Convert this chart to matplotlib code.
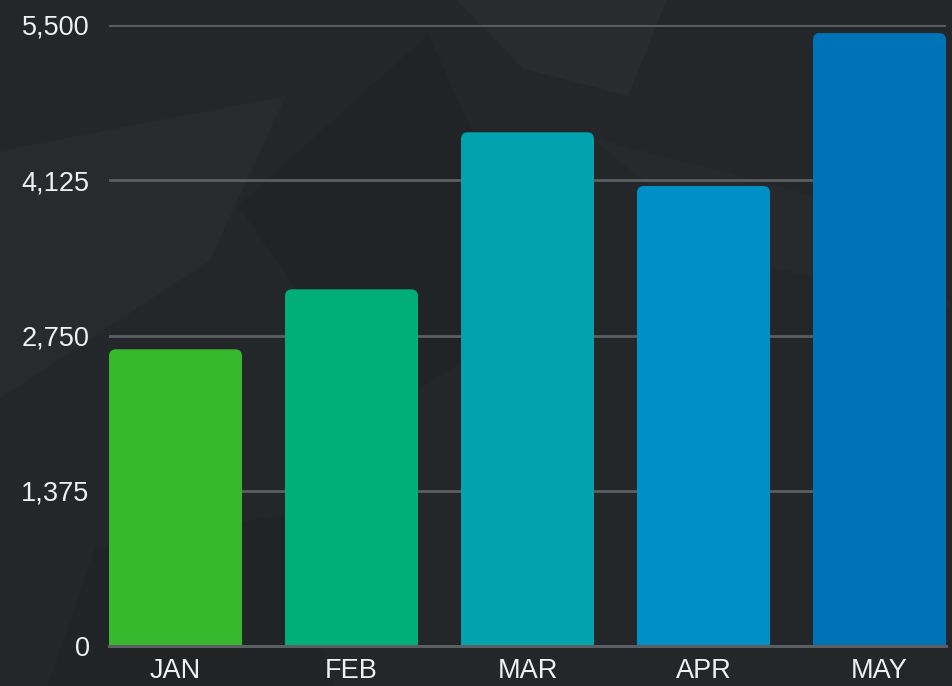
import matplotlib
matplotlib.use("Agg")
import matplotlib.pyplot as plt
from matplotlib.patches import FancyBboxPatch, Polygon
import numpy as np

months = ["JAN", "FEB", "MAR", "APR", "MAY"]
values = [2628, 3159, 4550, 4074, 5429]
colors = ["#37b72c", "#00ae78", "#00a3ae", "#008fc6", "#0073b6"]
yticks = [0, 1375, 2750, 4125, 5500]
ytick_labels = ["0", "1,375", "2,750", "4,125", "5,500"]

W, H, DPI = 952, 686, 100
fig = plt.figure(figsize=(W / DPI, H / DPI), dpi=DPI)
fig.patch.set_facecolor("#23272a")

# subtle background texture (figure coordinates)
bg = fig.add_axes([0, 0, 1, 1], zorder=-10)
bg.set_xlim(0, 1); bg.set_ylim(0, 1); bg.axis("off")
bg.set_facecolor("#23272a")
shapes = [
    ([(0.0, 0.42), (0.0, 0.78), (0.30, 0.86), (0.22, 0.62)], "#3a3f43", 0.18),
    ([(0.48, 1.0), (0.70, 1.0), (0.66, 0.86), (0.55, 0.90)], "#3a3f43", 0.22),
    ([(0.62, 0.80), (0.95, 0.68), (1.0, 0.55), (0.78, 0.62)], "#3a3f43", 0.15),
    ([(0.05, 0.0), (0.35, 0.0), (0.30, 0.25), (0.10, 0.20)], "#1b1e20", 0.3),
    ([(0.25, 0.70), (0.45, 0.95), (0.58, 0.55), (0.40, 0.40)], "#1c1f21", 0.3),
]
for pts, c, a in shapes:
    bg.add_patch(Polygon(pts, closed=True, facecolor=c, alpha=a, edgecolor="none"))

left, right = 109 / W, 946 / W
bottom, top = 40 / H, 661 / H
ax = fig.add_axes([left, bottom, right - left, top - bottom])
ax.set_facecolor("none")

x = np.arange(len(months))
bw = 133 / 176
bars = ax.bar(x, values, width=bw, color=colors, zorder=2)
ax.set_xlim(-bw / 2, len(months) - 1 + bw / 2)
ax.set_ylim(0, 5500)

# replace bars with rounded-top versions
px_per_x = (right - left) * W / (ax.get_xlim()[1] - ax.get_xlim()[0])
px_per_y = (top - bottom) * H / 5500
aspect = px_per_x / px_per_y
r = 7 / px_per_x
for b, c in zip(bars, colors):
    bx, bwid, bh = b.get_x(), b.get_width(), b.get_height()
    b.set_visible(False)
    ext = r * aspect * 2
    p = FancyBboxPatch((bx, -ext), bwid, bh + ext,
                       boxstyle=f"round,pad=0,rounding_size={r}",
                       mutation_aspect=aspect, facecolor=c, edgecolor="none",
                       zorder=2, clip_on=True)
    ax.add_patch(p)

ax.set_yticks(yticks)
ax.set_yticklabels(ytick_labels)
ax.set_xticks(x)
ax.set_xticklabels(months)
for yv in yticks[1:]:
    ax.axhline(yv, color="#5c5f62", lw=2.0, zorder=1)
ax.axhline(0, color="#5c5f62", lw=2.2, zorder=3, clip_on=False)

for s in ax.spines.values():
    s.set_visible(False)
ax.tick_params(axis="both", length=0, colors="#f0f0f0", labelsize=19.5)
ax.tick_params(axis="y", pad=14)
ax.tick_params(axis="x", pad=9)
for lab in ax.get_xticklabels() + ax.get_yticklabels():
    lab.set_fontfamily("Liberation Sans")
    lab.set_color("#f0f0f0")

fig.savefig("out.png", dpi=DPI, facecolor=fig.get_facecolor())
